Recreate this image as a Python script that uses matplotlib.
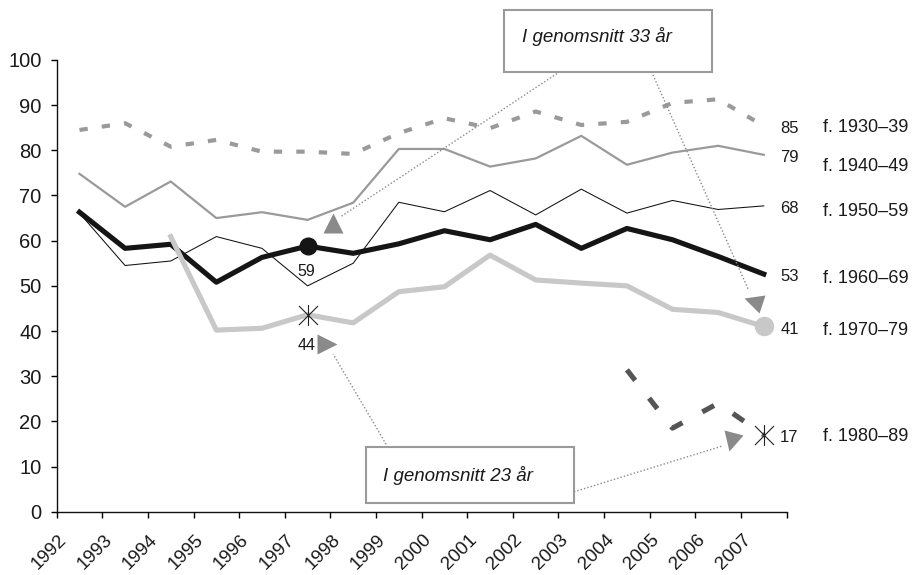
import numpy as np
import matplotlib
matplotlib.use("Agg")
import matplotlib.pyplot as plt
from matplotlib.markers import MarkerStyle
from matplotlib.path import Path
from matplotlib.patches import Rectangle
from matplotlib.transforms import Affine2D, ScaledTranslation

plt.rcParams['font.family'] = ['Liberation Sans', 'DejaVu Sans']

# ── Data ─────────────────────────────────────────────────────────────────────
nan = np.nan
years = list(range(1992, 2008))

f1930 = [84.5, 86.0, 80.8, 82.3, 79.7, 79.7, 79.2, 83.8, 87.1, 84.9, 88.6, 85.6, 86.3, 90.5, 91.3, 85.4]
f1940 = [74.8, 67.5, 73.1, 65.0, 66.3, 64.6, 68.4, 80.3, 80.3, 76.4, 78.2, 83.2, 76.8, 79.5, 81.0, 79.0]
f1950 = [66.1, 54.5, 55.5, 60.9, 58.3, 50.0, 55.0, 68.5, 66.4, 71.1, 65.7, 71.4, 66.1, 68.9, 66.9, 67.7]
f1960 = [66.3, 58.3, 59.2, 50.8, 56.3, 58.8, 57.2, 59.3, 62.2, 60.2, 63.6, 58.3, 62.7, 60.2, 56.5, 52.6]
f1970 = [nan, nan, 60.9, 40.2, 40.6, 43.6, 41.8, 48.7, 49.8, 56.8, 51.3, 50.6, 50.0, 44.8, 44.1, 41.0]
f1980 = [nan] * 12 + [31.4, 18.5, 24.0, 17.0]

cohorts = ["f. 1930–39", "f. 1940–49", "f. 1950–59", "f. 1960–69", "f. 1970–79", "f. 1980–89"]
series = [f1930, f1940, f1950, f1960, f1970, f1980]

# cohort name placement (y, data units) next to the end values
name_y = [85.1, 76.4, 66.4, 51.7, 40.2, 16.6]

TXT = "#1a1a1a"
styles = [
    dict(color="#9a9a9a", lw=3.0, ls=(0, (2.0, 3.4))),
    dict(color="#9a9a9a", lw=1.6, ls="-"),
    dict(color="#111111", lw=0.75, ls="-"),
    dict(color="#151515", lw=3.7, ls="-"),
    dict(color="#c8c8c8", lw=3.7, ls="-"),
    dict(color="#555555", lw=3.7, ls=(0, (2.6, 4.4))),
]

fig = plt.figure(figsize=(9.14, 5.75), dpi=100)
ax = fig.add_axes([0.062, 0.1101, 0.7986, 0.7856])

x = np.arange(len(years))
for vals, st in zip(series, styles):
    ax.plot(x, vals, solid_joinstyle="round", clip_on=False, **st)

# ── Axes cosmetics ───────────────────────────────────────────────────────────
ax.set_xlim(-0.5, len(years) - 0.5)
ax.set_ylim(0, 100)
ax.spines["top"].set_visible(False)
ax.spines["right"].set_visible(False)
for s in ("left", "bottom"):
    ax.spines[s].set_linewidth(1.0)
    ax.spines[s].set_color("#111111")

ax.set_yticks(range(0, 101, 10))
ax.tick_params(axis="y", length=4.3, width=1, pad=6.5, labelsize=14.5, labelcolor=TXT)
ax.set_xticks(x)
ax.set_xticklabels([str(y) for y in years])
ax.set_xticks(np.arange(-0.5, len(years)), minor=True)
ax.tick_params(axis="x", which="major", length=0, pad=14, labelsize=13.5, labelcolor=TXT)
ax.tick_params(axis="x", which="minor", length=4.3, width=1)
shift = ScaledTranslation(-7 / 72, 0, fig.dpi_scale_trans)
for lbl in ax.get_xticklabels():
    lbl.set_rotation(45)
    lbl.set_ha("right")
    lbl.set_transform(lbl.get_transform() + shift)

# ── Highlight markers ────────────────────────────────────────────────────────
star = Path([(-1, -1), (1, 1), (-1, 1), (1, -1), (0, -1.1), (0, 1.1)],
            [Path.MOVETO, Path.LINETO] * 3)

i97 = years.index(1997)
i07 = years.index(2007)
ax.plot(i97, f1960[i97], "o", ms=12, color="#151515", zorder=6)
ax.plot(i97, f1970[i97], marker=star, ms=15, mfc="none", mec="#222222", mew=0.8, zorder=6)
ax.plot(i07, f1970[i07], "o", ms=13, color="#c8c8c8", zorder=6, clip_on=False)
ax.plot(i07, f1980[i07], marker=star, ms=15, mfc="none", mec="#222222", mew=0.8, zorder=6,
        clip_on=False)

ax.annotate(f"{f1960[i97]:.0f}", (i97, f1960[i97]), xytext=(-1, -18), textcoords="offset points",
            ha="center", va="center", fontsize=11.5, color=TXT)
ax.annotate(f"{f1970[i97]:.0f}", (i97, f1970[i97]), xytext=(-1, -22), textcoords="offset points",
            ha="center", va="center", fontsize=11.5, color=TXT)

# end values and cohort names
for vals, name, ny in zip(series, cohorts, name_y):
    v = vals[-1]
    ax.annotate(f"{v:.0f}", (i07, v), xytext=(18.5, -2), textcoords="offset points",
                ha="center", va="center", fontsize=12, color=TXT, annotation_clip=False)
    ax.annotate(name, (i07, ny), xytext=(42.5, 0), textcoords="offset points",
                ha="left", va="center", fontsize=13, color=TXT, annotation_clip=False)

# ── Callout boxes with dotted pointers ───────────────────────────────────────
BOX_EC = "#9a9a9a"
PTR = "#8a8a8a"

def callout(x0, x1, y0, y1, tx, ty, text):
    ax.add_patch(Rectangle((x0, y0), x1 - x0, y1 - y0, fc="white", ec=BOX_EC, lw=1.5,
                           clip_on=False, zorder=5))
    ax.text(tx, ty, text, style="italic", fontsize=13.5, color=TXT, va="center", ha="left",
            zorder=6, clip_on=False)

def pointer(p0, p1, head_xy, marker, rot=0):
    ax.plot([p0[0], p1[0]], [p0[1], p1[1]], ls=(0, (1, 1.5)), lw=1, color=PTR,
            clip_on=False, zorder=4)
    ms = MarkerStyle(marker, transform=Affine2D().rotate_deg(rot))
    ax.plot(*head_xy, marker=ms, ms=14, color=PTR, mec="none", clip_on=False, zorder=4)

callout(9.30, 13.86, 97.4, 111.1, 9.70, 105.2, "I genomsnitt 33 år")
pointer((10.53, 97.4), (5.74, 65.4), (5.56, 63.9), "^")
pointer((12.54, 97.4), (14.67, 49.0), (14.77, 46.7), "<", -20)

callout(6.29, 10.84, 1.86, 14.26, 6.66, 8.1, "I genomsnitt 23 år")
pointer((6.76, 14.26), (5.56, 34.9), (5.42, 37.2), ">")
pointer((10.84, 4.4), (14.08, 14.5), (14.28, 15.5), "v", -14)

fig.savefig("out.png", dpi=100)
